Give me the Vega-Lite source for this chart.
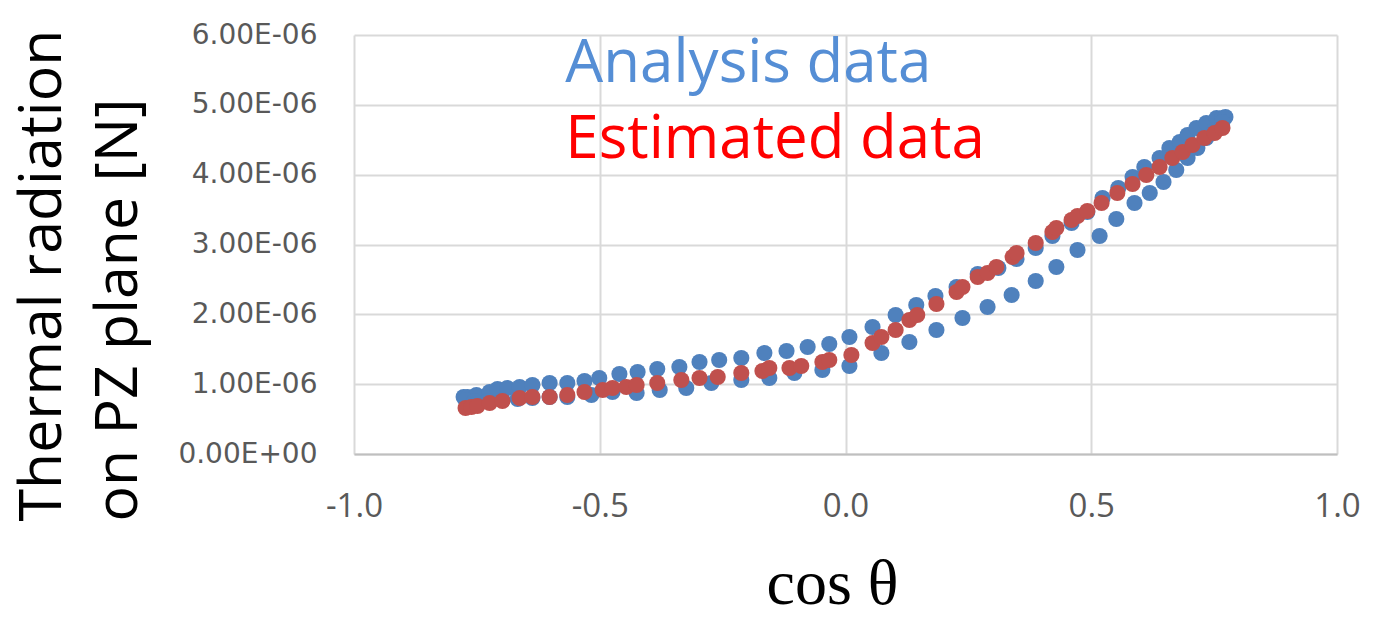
{
  "$schema": "https://vega.github.io/schema/vega-lite/v6.json",
  "width": 983,
  "height": 419,
  "autosize": {"type": "none"},
  "padding": {"left": 354, "top": 35, "right": 52, "bottom": 167},
  "background": "white",
  "config": {"view": {"stroke": null}, "font": "Open Sans"},
  "datasets": {
    "points": [
      {"series": "Analysis", "cos": -0.777, "force": 0.816e-6},
      {"series": "Analysis", "cos": -0.769, "force": 0.816e-6},
      {"series": "Analysis", "cos": -0.751, "force": 0.845e-6},
      {"series": "Analysis", "cos": -0.724, "force": 0.888e-6},
      {"series": "Analysis", "cos": -0.708, "force": 0.931e-6},
      {"series": "Analysis", "cos": -0.688, "force": 0.945e-6},
      {"series": "Analysis", "cos": -0.663, "force": 0.959e-6},
      {"series": "Analysis", "cos": -0.637, "force": 0.988e-6},
      {"series": "Analysis", "cos": -0.602, "force": 1.017e-6},
      {"series": "Analysis", "cos": -0.566, "force": 1.017e-6},
      {"series": "Analysis", "cos": -0.531, "force": 1.045e-6},
      {"series": "Analysis", "cos": -0.501, "force": 1.088e-6},
      {"series": "Analysis", "cos": -0.460, "force": 1.146e-6},
      {"series": "Analysis", "cos": -0.423, "force": 1.174e-6},
      {"series": "Analysis", "cos": -0.383, "force": 1.217e-6},
      {"series": "Analysis", "cos": -0.338, "force": 1.246e-6},
      {"series": "Analysis", "cos": -0.297, "force": 1.317e-6},
      {"series": "Analysis", "cos": -0.257, "force": 1.346e-6},
      {"series": "Analysis", "cos": -0.212, "force": 1.375e-6},
      {"series": "Analysis", "cos": -0.165, "force": 1.446e-6},
      {"series": "Analysis", "cos": -0.120, "force": 1.475e-6},
      {"series": "Analysis", "cos": -0.077, "force": 1.532e-6},
      {"series": "Analysis", "cos": -0.033, "force": 1.575e-6},
      {"series": "Analysis", "cos": 0.008, "force": 1.676e-6},
      {"series": "Analysis", "cos": 0.055, "force": 1.819e-6},
      {"series": "Analysis", "cos": 0.102, "force": 1.991e-6},
      {"series": "Analysis", "cos": 0.144, "force": 2.134e-6},
      {"series": "Analysis", "cos": 0.183, "force": 2.263e-6},
      {"series": "Analysis", "cos": 0.226, "force": 2.392e-6},
      {"series": "Analysis", "cos": 0.269, "force": 2.578e-6},
      {"series": "Analysis", "cos": 0.311, "force": 2.664e-6},
      {"series": "Analysis", "cos": 0.348, "force": 2.793e-6},
      {"series": "Analysis", "cos": 0.387, "force": 2.950e-6},
      {"series": "Analysis", "cos": 0.421, "force": 3.122e-6},
      {"series": "Analysis", "cos": 0.460, "force": 3.308e-6},
      {"series": "Analysis", "cos": 0.492, "force": 3.466e-6},
      {"series": "Analysis", "cos": 0.523, "force": 3.666e-6},
      {"series": "Analysis", "cos": 0.555, "force": 3.809e-6},
      {"series": "Analysis", "cos": 0.584, "force": 3.967e-6},
      {"series": "Analysis", "cos": 0.608, "force": 4.110e-6},
      {"series": "Analysis", "cos": 0.639, "force": 4.239e-6},
      {"series": "Analysis", "cos": 0.659, "force": 4.382e-6},
      {"series": "Analysis", "cos": 0.680, "force": 4.468e-6},
      {"series": "Analysis", "cos": 0.696, "force": 4.568e-6},
      {"series": "Analysis", "cos": 0.714, "force": 4.668e-6},
      {"series": "Analysis", "cos": 0.734, "force": 4.740e-6},
      {"series": "Analysis", "cos": 0.755, "force": 4.812e-6},
      {"series": "Analysis", "cos": 0.767, "force": 4.812e-6},
      {"series": "Analysis", "cos": 0.773, "force": 4.826e-6},
      {"series": "Analysis", "cos": -0.773, "force": 0.773e-6},
      {"series": "Analysis", "cos": -0.755, "force": 0.759e-6},
      {"series": "Analysis", "cos": -0.728, "force": 0.759e-6},
      {"series": "Analysis", "cos": -0.698, "force": 0.773e-6},
      {"series": "Analysis", "cos": -0.667, "force": 0.788e-6},
      {"series": "Analysis", "cos": -0.637, "force": 0.802e-6},
      {"series": "Analysis", "cos": -0.602, "force": 0.816e-6},
      {"series": "Analysis", "cos": -0.566, "force": 0.816e-6},
      {"series": "Analysis", "cos": -0.517, "force": 0.845e-6},
      {"series": "Analysis", "cos": -0.474, "force": 0.888e-6},
      {"series": "Analysis", "cos": -0.425, "force": 0.874e-6},
      {"series": "Analysis", "cos": -0.378, "force": 0.917e-6},
      {"series": "Analysis", "cos": -0.324, "force": 0.945e-6},
      {"series": "Analysis", "cos": -0.273, "force": 1.017e-6},
      {"series": "Analysis", "cos": -0.212, "force": 1.060e-6},
      {"series": "Analysis", "cos": -0.155, "force": 1.088e-6},
      {"series": "Analysis", "cos": -0.104, "force": 1.160e-6},
      {"series": "Analysis", "cos": -0.047, "force": 1.203e-6},
      {"series": "Analysis", "cos": 0.008, "force": 1.260e-6},
      {"series": "Analysis", "cos": 0.073, "force": 1.446e-6},
      {"series": "Analysis", "cos": 0.130, "force": 1.604e-6},
      {"series": "Analysis", "cos": 0.185, "force": 1.776e-6},
      {"series": "Analysis", "cos": 0.238, "force": 1.948e-6},
      {"series": "Analysis", "cos": 0.289, "force": 2.105e-6},
      {"series": "Analysis", "cos": 0.338, "force": 2.277e-6},
      {"series": "Analysis", "cos": 0.387, "force": 2.477e-6},
      {"series": "Analysis", "cos": 0.429, "force": 2.678e-6},
      {"series": "Analysis", "cos": 0.472, "force": 2.921e-6},
      {"series": "Analysis", "cos": 0.517, "force": 3.122e-6},
      {"series": "Analysis", "cos": 0.551, "force": 3.365e-6},
      {"series": "Analysis", "cos": 0.588, "force": 3.594e-6},
      {"series": "Analysis", "cos": 0.619, "force": 3.738e-6},
      {"series": "Analysis", "cos": 0.647, "force": 3.895e-6},
      {"series": "Analysis", "cos": 0.673, "force": 4.067e-6},
      {"series": "Analysis", "cos": 0.696, "force": 4.239e-6},
      {"series": "Analysis", "cos": 0.716, "force": 4.382e-6},
      {"series": "Analysis", "cos": 0.734, "force": 4.525e-6},
      {"series": "Analysis", "cos": 0.751, "force": 4.640e-6},
      {"series": "Analysis", "cos": 0.767, "force": 4.754e-6},
      {"series": "Estimated", "cos": -0.773, "force": 0.659e-6},
      {"series": "Estimated", "cos": -0.761, "force": 0.673e-6},
      {"series": "Estimated", "cos": -0.749, "force": 0.687e-6},
      {"series": "Estimated", "cos": -0.724, "force": 0.730e-6},
      {"series": "Estimated", "cos": -0.698, "force": 0.759e-6},
      {"series": "Estimated", "cos": -0.663, "force": 0.802e-6},
      {"series": "Estimated", "cos": -0.637, "force": 0.816e-6},
      {"series": "Estimated", "cos": -0.602, "force": 0.816e-6},
      {"series": "Estimated", "cos": -0.566, "force": 0.845e-6},
      {"series": "Estimated", "cos": -0.531, "force": 0.888e-6},
      {"series": "Estimated", "cos": -0.494, "force": 0.917e-6},
      {"series": "Estimated", "cos": -0.474, "force": 0.945e-6},
      {"series": "Estimated", "cos": -0.446, "force": 0.959e-6},
      {"series": "Estimated", "cos": -0.425, "force": 0.988e-6},
      {"series": "Estimated", "cos": -0.383, "force": 1.017e-6},
      {"series": "Estimated", "cos": -0.334, "force": 1.060e-6},
      {"series": "Estimated", "cos": -0.297, "force": 1.088e-6},
      {"series": "Estimated", "cos": -0.260, "force": 1.103e-6},
      {"series": "Estimated", "cos": -0.212, "force": 1.160e-6},
      {"series": "Estimated", "cos": -0.169, "force": 1.189e-6},
      {"series": "Estimated", "cos": -0.155, "force": 1.232e-6},
      {"series": "Estimated", "cos": -0.114, "force": 1.232e-6},
      {"series": "Estimated", "cos": -0.090, "force": 1.260e-6},
      {"series": "Estimated", "cos": -0.047, "force": 1.317e-6},
      {"series": "Estimated", "cos": -0.033, "force": 1.346e-6},
      {"series": "Estimated", "cos": 0.012, "force": 1.418e-6},
      {"series": "Estimated", "cos": 0.055, "force": 1.590e-6},
      {"series": "Estimated", "cos": 0.073, "force": 1.676e-6},
      {"series": "Estimated", "cos": 0.102, "force": 1.776e-6},
      {"series": "Estimated", "cos": 0.130, "force": 1.919e-6},
      {"series": "Estimated", "cos": 0.146, "force": 1.991e-6},
      {"series": "Estimated", "cos": 0.185, "force": 2.148e-6},
      {"series": "Estimated", "cos": 0.226, "force": 2.320e-6},
      {"series": "Estimated", "cos": 0.238, "force": 2.392e-6},
      {"series": "Estimated", "cos": 0.269, "force": 2.535e-6},
      {"series": "Estimated", "cos": 0.289, "force": 2.592e-6},
      {"series": "Estimated", "cos": 0.307, "force": 2.678e-6},
      {"series": "Estimated", "cos": 0.340, "force": 2.821e-6},
      {"series": "Estimated", "cos": 0.348, "force": 2.878e-6},
      {"series": "Estimated", "cos": 0.387, "force": 3.022e-6},
      {"series": "Estimated", "cos": 0.421, "force": 3.179e-6},
      {"series": "Estimated", "cos": 0.429, "force": 3.236e-6},
      {"series": "Estimated", "cos": 0.460, "force": 3.351e-6},
      {"series": "Estimated", "cos": 0.472, "force": 3.408e-6},
      {"series": "Estimated", "cos": 0.492, "force": 3.480e-6},
      {"series": "Estimated", "cos": 0.521, "force": 3.594e-6},
      {"series": "Estimated", "cos": 0.553, "force": 3.738e-6},
      {"series": "Estimated", "cos": 0.584, "force": 3.867e-6},
      {"series": "Estimated", "cos": 0.612, "force": 3.995e-6},
      {"series": "Estimated", "cos": 0.639, "force": 4.110e-6},
      {"series": "Estimated", "cos": 0.665, "force": 4.239e-6},
      {"series": "Estimated", "cos": 0.686, "force": 4.325e-6},
      {"series": "Estimated", "cos": 0.706, "force": 4.425e-6},
      {"series": "Estimated", "cos": 0.730, "force": 4.525e-6},
      {"series": "Estimated", "cos": 0.751, "force": 4.597e-6},
      {"series": "Estimated", "cos": 0.767, "force": 4.668e-6}
    ],
    "labels": [
      {"series": "Analysis", "label": "Analysis data", "cos": -0.570, "force": 5.327e-6},
      {"series": "Estimated", "label": "Estimated data", "cos": -0.570, "force": 4.239e-6}
    ]
  },
  "encoding": {
    "x": {
      "field": "cos",
      "type": "quantitative",
      "scale": {"domain": [-1, 1], "nice": false},
      "axis": {
        "values": [-1, -0.5, 0, 0.5, 1],
        "labelExpr": "replace(format(datum.value, '.1f'), '−', '-')",
        "labelFlush": false,
        "labelOverlap": false,
        "ticks": false,
        "domain": true,
        "domainColor": "#BFBFBF",
        "domainWidth": 2,
        "grid": true,
        "gridColor": "#D9D9D9",
        "gridWidth": 2,
        "labelFont": "Open Sans",
        "labelFontSize": 33,
        "labelColor": "#595959",
        "labelPadding": 36,
        "labelBaseline": "top",
        "title": "cos θ",
        "titleFont": "Liberation Serif",
        "titleFontSize": 64,
        "titleFontWeight": "normal",
        "titleColor": "#000000",
        "titleX": 478,
        "titleY": 149,
        "titleAlign": "center",
        "titleBaseline": "alphabetic"
      }
    },
    "y": {
      "field": "force",
      "type": "quantitative",
      "scale": {"domain": [0, 6e-6], "nice": false, "zero": true},
      "axis": {
        "values": [0, 1e-6, 2e-6, 3e-6, 4e-6, 5e-6, 6e-6],
        "labelExpr": "datum.value == 0 ? '0.00E+00' : format(datum.value * 1e6, '.2f') + 'E-06'",
        "labelFlush": false,
        "labelOverlap": false,
        "ticks": false,
        "domain": false,
        "grid": true,
        "gridColor": "#D9D9D9",
        "gridWidth": 2,
        "labelFont": "DejaVu Sans",
        "labelFontSize": 28,
        "labelColor": "#595959",
        "labelPadding": 37,
        "title": ["Thermal radiation", "on PZ plane [N]"],
        "titleFont": "Open Sans",
        "titleFontSize": 59,
        "titleFontWeight": "normal",
        "titleColor": "#000000",
        "titleAngle": 270,
        "titleX": -294,
        "titleY": 486,
        "titleAlign": "left",
        "titleBaseline": "alphabetic",
        "titleLineHeight": 76
      }
    }
  },
  "layer": [
    {
      "data": {"name": "points"},
      "transform": [{"filter": "datum.series == 'Analysis'"}],
      "mark": {"type": "circle", "size": 260, "opacity": 1, "color": "#4F81BD"}
    },
    {
      "data": {"name": "points"},
      "transform": [{"filter": "datum.series == 'Estimated'"}],
      "mark": {"type": "circle", "size": 260, "opacity": 1, "color": "#C0504D"}
    },
    {
      "data": {"name": "labels"},
      "transform": [{"filter": "datum.series == 'Analysis'"}],
      "mark": {"type": "text", "align": "left", "baseline": "alphabetic", "fontSize": 60, "font": "Open Sans", "color": "#558ED5"},
      "encoding": {"text": {"field": "label"}}
    },
    {
      "data": {"name": "labels"},
      "transform": [{"filter": "datum.series == 'Estimated'"}],
      "mark": {"type": "text", "align": "left", "baseline": "alphabetic", "fontSize": 60, "font": "Open Sans", "color": "#FF0000"},
      "encoding": {"text": {"field": "label"}}
    }
  ]
}
